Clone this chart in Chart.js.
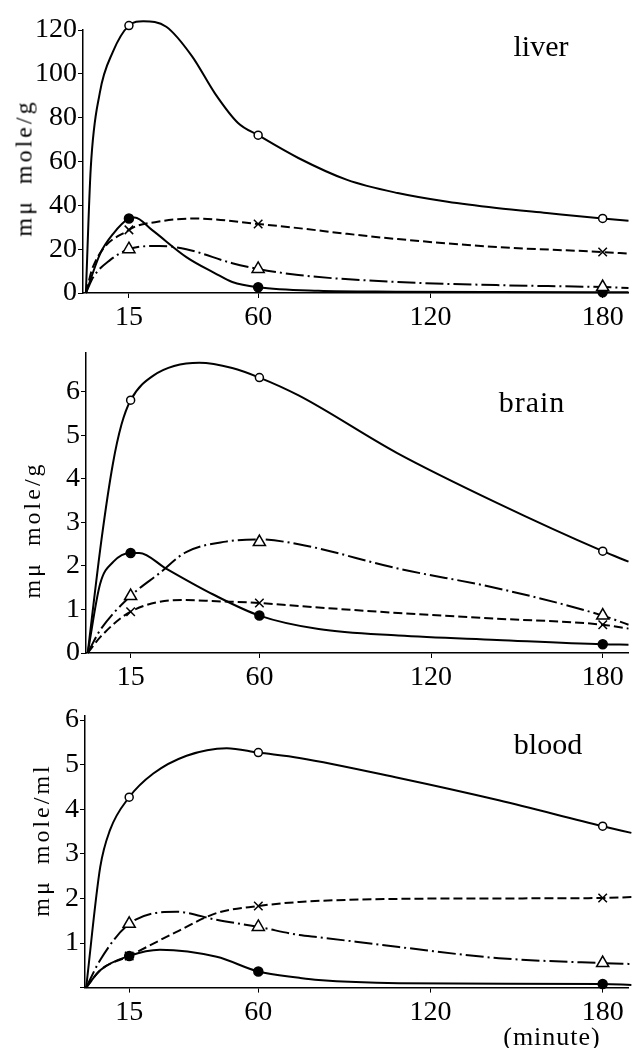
<!DOCTYPE html>
<html>
<head>
<meta charset="utf-8">
<script src="https://cdn.jsdelivr.net/npm/chart.js@4.4.1/dist/chart.umd.min.js"></script>
<style>
  body { margin: 0; background: #fff; }
  #wrap { position: relative; width: 637px; height: 1048px; overflow: hidden; font-family: "Liberation Serif", serif; color: #000; }
  canvas { position: absolute; left: 0; }
  .lbl { position: absolute; white-space: nowrap; transform: translate(-50%, -50%); }
  .ytitle { position: absolute; white-space: nowrap; font-size: 24px; letter-spacing: 3px; word-spacing: 6px; transform: translate(-50%, -50%) rotate(-90deg); }
</style>
</head>
<body>
<div id="wrap">
  <canvas id="c1" width="637" height="335" style="top:0px"></canvas>
  <canvas id="c2" width="637" height="355" style="top:335px"></canvas>
  <canvas id="c3" width="637" height="358" style="top:690px"></canvas>
  <div class="ytitle" style="left:24px; top:168px">mμ mole/g</div>
  <div class="ytitle" style="left:32px; top:530px">mμ mole/g</div>
  <div class="ytitle" style="left:41px; top:840px">mμ mole/ml</div>
  <div class="lbl" style="left:541px; top:46px; font-size:30px">liver</div>
  <div class="lbl" style="left:532px; top:402px; font-size:30px; letter-spacing:1px">brain</div>
  <div class="lbl" style="left:548px; top:744px; font-size:30px">blood</div>
  <div class="lbl" style="left:552px; top:1037px; font-size:26px; letter-spacing:1px">(minute)</div>
</div>
<script>
// sampling times with markers (minute)
const minutes = [15, 60, 180];
const xTicks = [15, 60, 120, 180];

// marker values
const liverOpen = [122, 72, 34];
const liverCross = [28.8, 31.5, 18.7];
const liverTri = [20, 11, 2.7];
const liverFilled = [34, 2.6, 0.3];

const brainOpen = [5.81, 6.33, 2.34];
const brainCross = [0.95, 1.15, 0.65];
const brainTri = [1.31, 2.55, 0.86];
const brainFilled = [2.3, 0.86, 0.2];

const bloodOpen = [4.27, 5.27, 3.62];
const bloodCross = [0.71, 1.83, 2.01];
const bloodTri = [1.43, 1.36, 0.55];
const bloodFilled = [0.71, 0.36, 0.08];

// the drawn curves: [minute, value]
const liverOpenCurve = [[0,0],[1.7,57],[4.8,91],[9.4,110],[15,122],[20,124],[28,121.5],[37,108],[45,91],[53,77.6],[60,72],[74,61.6],[91,51.6],[108.6,45.6],[126,41.6],[143,38.8],[160.5,36.5],[180,34],[189,33]];
const liverCrossCurve = [[0,0],[2.5,12],[15,28.8],[25,32.5],[38,34],[60,31.5],[74,29.6],[91,27],[108.6,24.6],[143,21],[180,18.7],[189,18]];
const liverTriCurve = [[0,0],[2.6,7.3],[8.4,15],[15,20],[25.6,21.5],[35,20],[51,13.6],[60,11],[74,8.2],[108.6,5],[143,3.6],[180,2.7],[189,2.3]];
const liverFilledCurve = [[0,0],[5,18],[9.5,27],[15,34],[17,34.5],[23,28.8],[35,16.4],[45,9],[51,5],[60,2.6],[81,1],[108,0.6],[143,0.4],[180,0.3],[189,0.3]];

const brainOpenCurve = [[0,0],[4.8,2.6],[8.8,4.35],[11.8,5.25],[15,5.81],[22.8,6.37],[39,6.67],[50.5,6.55],[60,6.33],[73.7,5.92],[108,4.6],[143,3.45],[180,2.34],[189,2.1]];
const brainCrossCurve = [[0,0],[4.3,0.36],[15,0.95],[33,1.22],[45,1.19],[60,1.15],[73.7,1.08],[108.5,0.92],[143,0.79],[180,0.65],[189,0.56]];
const brainTriCurve = [[0,0],[4.3,0.52],[15,1.31],[25,1.83],[34.4,2.32],[48.3,2.56],[60,2.61],[73.7,2.5],[108.5,1.94],[143,1.49],[180,0.86],[189,0.65]];
const brainFilledCurve = [[0,0],[4.3,1.58],[9,2.1],[15,2.3],[18,2.3],[27.4,1.94],[43.7,1.35],[60,0.86],[80.7,0.55],[108.5,0.4],[143,0.3],[180,0.2],[189,0.19]];

const bloodOpenCurve = [[0,0],[4.9,2.7],[8.3,3.53],[15,4.27],[23.4,4.8],[35,5.2],[49,5.37],[60,5.27],[74.3,5.15],[109,4.7],[143.8,4.2],[180,3.62],[190,3.47]];
const bloodCrossCurve = [[0,0],[4.9,0.39],[15,0.71],[31.5,1.25],[45.4,1.67],[60,1.83],[74.3,1.92],[109,1.99],[143.8,2.0],[180,2.01],[190,2.03]];
const bloodTriCurve = [[0,0],[4.9,0.62],[15,1.43],[31.5,1.7],[45.4,1.52],[60,1.36],[74.3,1.18],[81,1.13],[109,0.91],[143.8,0.66],[180,0.55],[190,0.53]];
const bloodFilledCurve = [[0,0],[4.9,0.39],[15,0.71],[25.7,0.85],[45.5,0.69],[60,0.36],[74.3,0.22],[81,0.17],[109,0.1],[180,0.08],[190,0.06]];

const INK = '#000';
const dashX = [9, 4];
const dashTri = [18, 4, 2, 4];

function curve(pts, dash) {
    return {
        type: 'line',
        data: pts.map(p => ({x: p[0], y: p[1]})),
        borderColor: INK,
        borderWidth: 2,
        borderDash: dash,
        pointRadius: 0,
        cubicInterpolationMode: 'monotone',
        clip: false,
        order: 2
    };
}

function marks(vals, style, fill, r) {
    return {
        type: 'scatter',
        data: vals.map((v, i) => ({x: minutes[i], y: v})),
        pointStyle: style,
        pointRadius: r,
        pointBackgroundColor: fill,
        pointBorderColor: INK,
        pointBorderWidth: 1.5,
        clip: false,
        order: 1
    };
}

function panel(id, c, opt) {
    new Chart(document.getElementById(id), {
        type: 'scatter',
        data: {
            datasets: [
                curve(c.open, []),
                curve(c.cross, dashX),
                curve(c.tri, dashTri),
                curve(c.filled, []),
                marks(c.openV, 'circle', '#fff', 4),
                marks(c.crossV, 'crossRot', INK, 6),
                marks(c.triV, 'triangle', '#fff', 7),
                marks(c.filledV, 'circle', INK, 4.5)
            ]
        },
        options: {
            responsive: false,
            animation: false,
            layout: {padding: opt.pad},
            plugins: {legend: {display: false}, tooltip: {enabled: false}},
            scales: {
                x: {
                    type: 'linear',
                    min: opt.xmin, max: 189,
                    afterBuildTicks: s => { s.ticks = xTicks.map(v => ({value: v})); },
                    afterFit: s => { s.height = opt.xh; },
                    grid: {drawOnChartArea: false, tickLength: 5, color: INK, lineWidth: 1},
                    border: {color: INK, width: 1.5},
                    ticks: {color: INK, padding: 3, maxRotation: 0, font: {family: 'Liberation Serif', size: 28}}
                },
                y: {
                    min: 0, max: opt.ymax,
                    afterFit: s => { s.width = opt.yw; },
                    grid: {drawOnChartArea: false, tickLength: 5, color: INK, lineWidth: 1},
                    border: {color: INK, width: 1.5},
                    ticks: {
                        stepSize: opt.step, includeBounds: false, color: INK, padding: 1,
                        font: {family: 'Liberation Serif', size: 28},
                        callback: v => (v === 0 && opt.noZero) ? '' : v
                    }
                }
            }
        }
    });
}

panel('c1', {
    open: liverOpenCurve, cross: liverCrossCurve, tri: liverTriCurve, filled: liverFilledCurve,
    openV: liverOpen, crossV: liverCross, triV: liverTri, filledV: liverFilled
}, {pad: {top: 30, right: 5, left: 0, bottom: 0}, xmin: -1, xh: 42, ymax: 120, step: 20, yw: 83});

panel('c2', {
    open: brainOpenCurve, cross: brainCrossCurve, tri: brainTriCurve, filled: brainFilledCurve,
    openV: brainOpen, crossV: brainCross, triV: brainTri, filledV: brainFilled
}, {pad: {top: 11.6, right: 4, left: 0, bottom: 0}, xmin: -0.6, xh: 37, ymax: 6.9, step: 1, yw: 86});

panel('c3', {
    open: bloodOpenCurve, cross: bloodCrossCurve, tri: bloodTriCurve, filled: bloodFilledCurve,
    openV: bloodOpen, crossV: bloodCross, triV: bloodTri, filledV: bloodFilled
}, {pad: {top: 25.6, right: 3, left: 0, bottom: 0}, xmin: -0.4, xh: 60.4, ymax: 6.1, step: 1, yw: 85, noZero: true});
</script>
</body>
</html>
